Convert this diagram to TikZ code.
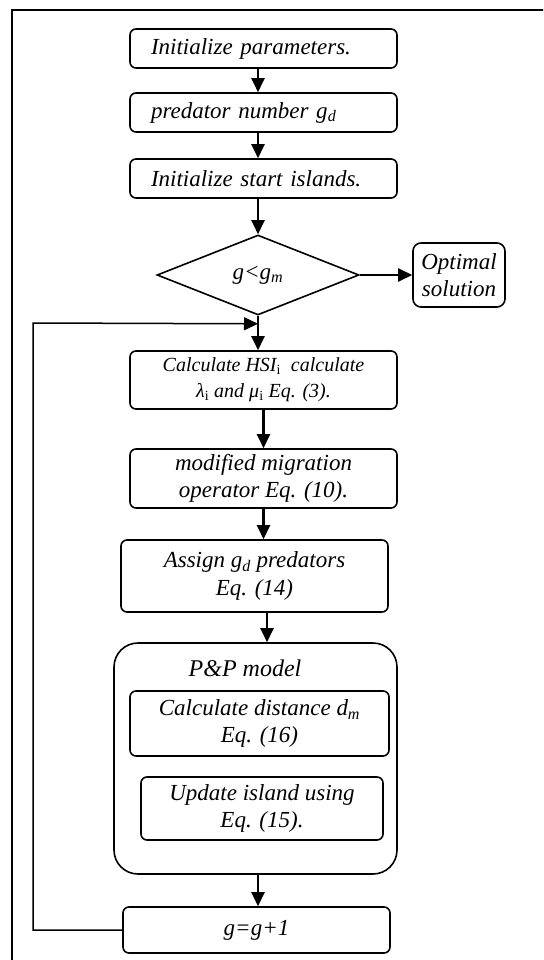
\documentclass[tikz,border=0pt]{standalone}
\usepackage{fontspec}
\setmainfont{Liberation Serif}
\usetikzlibrary{shapes.geometric,arrows.meta,calc}
\begin{document}
\begin{tikzpicture}[x=1pt,y=-1pt,
  font=\fontsize{23}{27.5}\selectfont\itshape,
  box/.style={draw,line width=1.6pt,rounded corners=6pt,minimum width=267pt,inner sep=0pt,align=center},
  lbox/.style={box,text width=225pt,align=left},
  arr/.style={line width=2.4pt,-{Triangle[length=14pt,width=13pt]}},
  back/.style={line width=1.5pt,-{Triangle[length=14pt,width=13pt]}}]
\clip (0,0) rectangle (543,960);
\draw[line width=1.3pt] (12,10) rectangle (560,990);
\node[lbox,minimum height=39pt] (b1) at (263.5,48.5) {Initialize parameters.};
\node[lbox,minimum height=39pt] (b2) at (263.5,112.5) {predator number g\textsubscript{d}};
\node[lbox,minimum height=39pt] (b3) at (263.5,178.5) {Initialize start islands.};
\node[draw,diamond,line width=1.6pt,minimum width=202pt,minimum height=80pt,inner sep=0pt] (dia) at (258,275) {g<g\textsubscript{m}};
\node[box,minimum width=92pt,minimum height=64pt,rounded corners=8pt] (opt) at (459,275) {Optimal\\solution};
\node[box,minimum height=58pt,font=\fontsize{20}{26}\selectfont\itshape] (b4) at (263.5,380) {Calculate HSI\textsubscript{\textup{i}}\ \ calculate\\λ\textsubscript{\textup{i}} and μ\textsubscript{\textup{i}} Eq. (3).};
\node[box,minimum height=59pt] (b5) at (263.5,478.5) {modified migration\\operator Eq. (10).};
\node[box,minimum height=72pt] (b6) at (254.5,576) {Assign g\textsubscript{d} predators\\Eq. (14)};
\node[box,minimum width=283pt,minimum height=231pt,rounded corners=24pt] (pp) at (255.5,758.5) {};
\node[font=\fontsize{24}{28}\selectfont\itshape] (ppt) at (245,668) {P\&P model};
\node[box,minimum width=259pt,minimum height=65pt] (i1) at (259.5,723.5) {Calculate distance d\textsubscript{m}\\Eq. (16)};
\node[box,minimum width=242pt,minimum height=63pt] (i2) at (262,808.5) {Update island using\\Eq. (15).};
\node[box,minimum height=46pt] (b7) at (256.5,930) {g=g+1};
\coordinate (j) at ($(dia.south)+(0,8)$);
\coordinate (lx) at (33,323);
\draw[arr] (b1.south -| dia.north) -- (b2.north -| dia.north);
\draw[arr] (b2.south -| dia.north) -- (b3.north -| dia.north);
\draw[arr] (b3.south -| dia.north) -- (dia.north);
\draw[arr] (dia.east) -- (opt.west);
\draw[arr] (dia.south) -- (dia.south |- b4.north);
\draw[arr] (b4.south) -- (b5.north);
\draw[arr] (b5.south) -- (b5.south |- b6.north);
\draw[arr] ([xshift=12.5pt]b6.south) -- ([xshift=12.5pt]b6.south |- pp.north);
\draw[arr] (dia.south |- pp.south) -- (dia.south |- b7.north);
\draw[back] (b7.west) -| (lx) -- (j);
\end{tikzpicture}
\end{document}
